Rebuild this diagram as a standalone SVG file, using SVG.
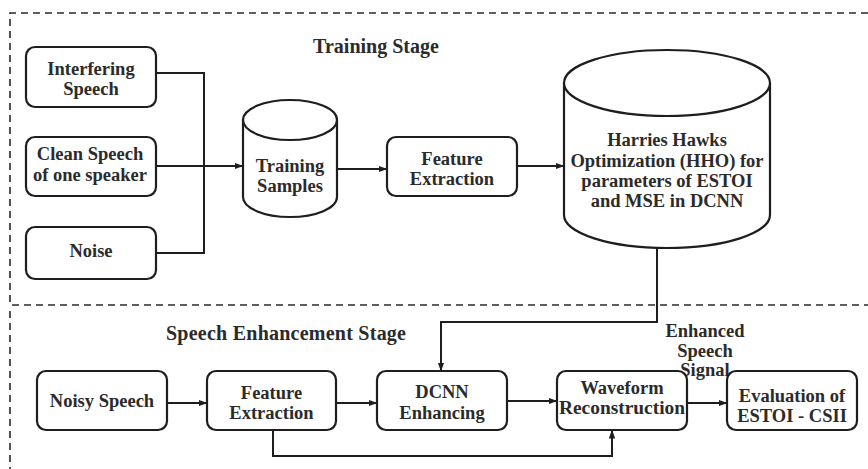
<svg xmlns="http://www.w3.org/2000/svg" width="868" height="469" viewBox="0 0 868 469">
<defs>
<style>
.box{fill:#fff;stroke:#1e1e1e;stroke-width:2.2}
.cyl{fill:#fff;stroke:#1e1e1e;stroke-width:2.2}
.ln{fill:none;stroke:#1e1e1e;stroke-width:2}
.dash{fill:none;stroke:#2a2a2a;stroke-width:1.6;stroke-dasharray:7,5}
text{font-family:"Liberation Serif","Times New Roman",serif;font-weight:bold;font-size:18.5px;fill:#2b2b2b;text-anchor:middle}
.title{font-size:20px}
</style>
<marker id="ah" markerWidth="9" markerHeight="8" refX="8.5" refY="4" orient="auto" markerUnits="userSpaceOnUse">
<path d="M0,0.8 L9,4 L0,7.2 Z" fill="#1e1e1e"/>
</marker>
</defs>
<rect width="868" height="469" fill="#fff"/>
<g id="frames">
<path class="dash" d="M868,13 H10 V305 H868"/>
<path class="dash" d="M10,311 V469"/>
</g>
<g id="labels">
<text class="title" x="376" y="53">Training Stage</text>
<text class="title" x="286" y="340" textLength="240" lengthAdjust="spacing">Speech Enhancement Stage</text>
<text x="705" y="337">Enhanced</text>
<text x="705" y="357">Speech</text>
<text x="705" y="376">Signal</text>
</g>
<g id="connectors">
<path class="ln" d="M156,73 H204 V253 H156"/>
<path class="ln" d="M156,166 H243" marker-end="url(#ah)"/>
<path class="ln" d="M337,169 H387" marker-end="url(#ah)"/>
<path class="ln" d="M517,166 H564" marker-end="url(#ah)"/>
<path class="ln" d="M657,248 V322 H441 V371" marker-end="url(#ah)"/>
<path class="ln" d="M167,403 H207" marker-end="url(#ah)"/>
<path class="ln" d="M336,403 H377" marker-end="url(#ah)"/>
<path class="ln" d="M507,401 H557" marker-end="url(#ah)"/>
<path class="ln" d="M687,403 H727" marker-end="url(#ah)"/>
<path class="ln" d="M273,430 V456 H612 V430" marker-end="url(#ah)"/>
</g>
<g id="interfering">
<rect class="box" x="26" y="47" width="130" height="60" rx="9"/>
<text x="91" y="75">Interfering</text>
<text x="91" y="95">Speech</text>
</g>
<g id="clean">
<rect class="box" x="26" y="137" width="130" height="59" rx="9"/>
<text x="90" y="160">Clean Speech</text>
<text x="90" y="181">of one speaker</text>
</g>
<g id="noise">
<rect class="box" x="26" y="227" width="130" height="52" rx="9"/>
<text x="91" y="257">Noise</text>
</g>
<g id="training-samples">
<path class="cyl" d="M243,120 V197 A47,20 0 0 0 337,197 V120"/>
<ellipse class="cyl" cx="290" cy="120" rx="47" ry="20"/>
<text x="290" y="172">Training</text>
<text x="290" y="192">Samples</text>
</g>
<g id="feature-extraction-1">
<rect class="box" x="387" y="137" width="130" height="59" rx="9"/>
<text x="452" y="165">Feature</text>
<text x="452" y="185">Extraction</text>
</g>
<g id="hho">
<path class="cyl" d="M564,83 V215 A103,33 0 0 0 770,215 V83"/>
<ellipse class="cyl" cx="667" cy="83" rx="103" ry="33"/>
<text x="667" y="146">Harries Hawks</text>
<text x="667" y="167">Optimization (HHO) for</text>
<text x="667" y="187">parameters of  ESTOI</text>
<text x="667" y="207">and MSE in  DCNN</text>
</g>
<g id="noisy-speech">
<rect class="box" x="37" y="371" width="130" height="59" rx="9"/>
<text x="102" y="407">Noisy Speech</text>
</g>
<g id="feature-extraction-2">
<rect class="box" x="207" y="371" width="129" height="59" rx="9"/>
<text x="271.5" y="399">Feature</text>
<text x="271.5" y="419">Extraction</text>
</g>
<g id="dcnn">
<rect class="box" x="377" y="371" width="130" height="59" rx="9"/>
<text x="442" y="398">DCNN</text>
<text x="442" y="419">Enhancing</text>
</g>
<g id="waveform">
<rect class="box" x="557" y="371" width="130" height="59" rx="9"/>
<text x="622" y="394">Waveform</text>
<text x="622" y="414" textLength="126" lengthAdjust="spacingAndGlyphs">Reconstruction</text>
</g>
<g id="evaluation">
<rect class="box" x="727" y="371" width="130" height="59" rx="9"/>
<text x="792" y="402">Evaluation of</text>
<text x="792" y="422">ESTOI - CSII</text>
</g>
</svg>
